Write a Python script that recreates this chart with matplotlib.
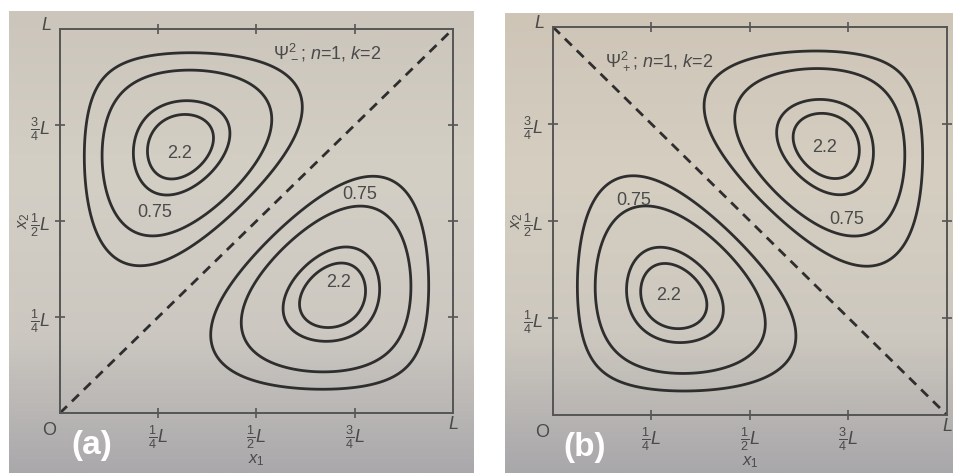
import numpy as np
import matplotlib.pyplot as plt

plt.rcParams['font.family'] = ['Liberation Sans', 'DejaVu Sans']
plt.rcParams['mathtext.fontset'] = 'custom'
plt.rcParams['mathtext.rm'] = 'Liberation Sans'
plt.rcParams['mathtext.it'] = 'Liberation Sans:italic'
plt.rcParams['mathtext.bf'] = 'Liberation Sans:bold'

# two particles in a box, states n and k; |psi|^2 contours
n, k = 1, 2
levels = [0.27, 0.75, 1.8, 2.2]
amp = 1.1
tick_pos = [0.25, 0.5, 0.75]
tick_lab = [r'$\frac{1}{4}L$', r'$\frac{1}{2}L$', r'$\frac{3}{4}L$']
tags = ['(a)', '(b)']
titles = [r'$\Psi_-^2$; $n$=1, $k$=2', r'$\Psi_+^2$; $n$=1, $k$=2']
signs = [-1, 1]

# where the level values are written, per panel (data coords)
lab_075 = [[(0.242, 0.521), (0.762, 0.570)], [(0.205, 0.552), (0.746, 0.505)]]
lab_22 = [[(0.305, 0.677), (0.708, 0.341)], [(0.294, 0.309), (0.690, 0.690)]]
title_xy = [(0.68, 0.94), (0.27, 0.91)]

def phi(m, x):
    return np.sin(m*np.pi*x)

x = np.linspace(0, 1, 401)
X1, X2 = np.meshgrid(x, x)

W, H = 954, 473
fig = plt.figure(figsize=(W/100, H/100), dpi=100)

def px(l, t, r, b):
    return [l/W, 1-b/H, (r-l)/W, (b-t)/H]

# paper background of each photo (top -> bottom tones)
paper = [np.array([[203, 197, 188], [212, 207, 197], [204, 200, 193], [170, 168, 171]])/255.,
         np.array([[206, 197, 183], [213, 206, 193], [205, 200, 191], [168, 167, 170]])/255.]
photo_rects = [px(9, 11, 474, 473), px(505, 13, 954, 473)]
for rect, grad in zip(photo_rects, paper):
    bg = fig.add_axes(rect, zorder=0)
    yy = np.linspace(0, 1, 200)
    img = np.stack([np.interp(yy, [0, .35, .7, 1], grad[:, c]) for c in range(3)], axis=1)
    bg.imshow(img[:, None, :], aspect='auto', extent=[0, 1, 0, 1])
    bg.axis('off')

ink = '#2e2e2e'
txt = '#4a4a4a'
axes_rects = [px(60, 29, 453, 413), px(553, 27, 947, 415)]

for i in range(2):
    ax = fig.add_axes(axes_rects[i], zorder=1)
    ax.set_facecolor('none')
    psi = phi(n, X1)*phi(k, X2) + signs[i]*phi(k, X1)*phi(n, X2)
    ax.contour(X1, X2, amp*psi**2, levels=levels, colors=ink, linewidths=2.0)
    # nodal line of the pair wavefunction
    if signs[i] < 0:
        ax.plot([0, 1], [0, 1], color=ink, lw=2, ls=(0, (3.5, 2.5)))
    else:
        ax.plot([0, 1], [1, 0], color=ink, lw=2, ls=(0, (3.5, 2.5)))
    ax.set_xlim(0, 1)
    ax.set_ylim(0, 1)
    ax.set_xticks(tick_pos)
    ax.set_xticklabels(tick_lab)
    ax.set_yticks(tick_pos)
    ax.set_yticklabels(tick_lab)
    ax.tick_params(direction='inout', length=7, width=1.2, colors='#555555',
                   labelcolor=txt, labelsize=13, top=True, right=True)
    for s in ax.spines.values():
        s.set_color('#555555')
        s.set_linewidth(1.4)
    ax.set_xlabel(r'$x_1$', fontsize=12, color=txt, labelpad=1)
    ax.set_ylabel(r'$x_2$', fontsize=12, color=txt, labelpad=-1)
    ax.text(-0.028, -0.045, 'O', transform=ax.transAxes, fontsize=13, color=txt,
            ha='center', va='center')
    ax.text(1.0, -0.03, r'$L$', transform=ax.transAxes, fontsize=13, color=txt,
            ha='center', va='center')
    ax.text(-0.02, 1.01, r'$L$', transform=ax.transAxes, fontsize=13, color=txt,
            ha='right', va='center')
    for (tx, ty) in lab_075[i]:
        ax.text(tx, ty, f'{levels[1]:g}', fontsize=13, color=txt, ha='center', va='center')
    for (tx, ty) in lab_22[i]:
        ax.text(tx, ty, f'{levels[3]:g}', fontsize=13, color=txt, ha='center', va='center')
    ax.text(*title_xy[i], titles[i], fontsize=13, color=txt, ha='center', va='center')
    ax.text(0.08, -0.085, tags[i], transform=ax.transAxes, fontsize=24,
            fontweight='bold', color='white', ha='center', va='center')

fig.savefig('out.png', dpi=100)
